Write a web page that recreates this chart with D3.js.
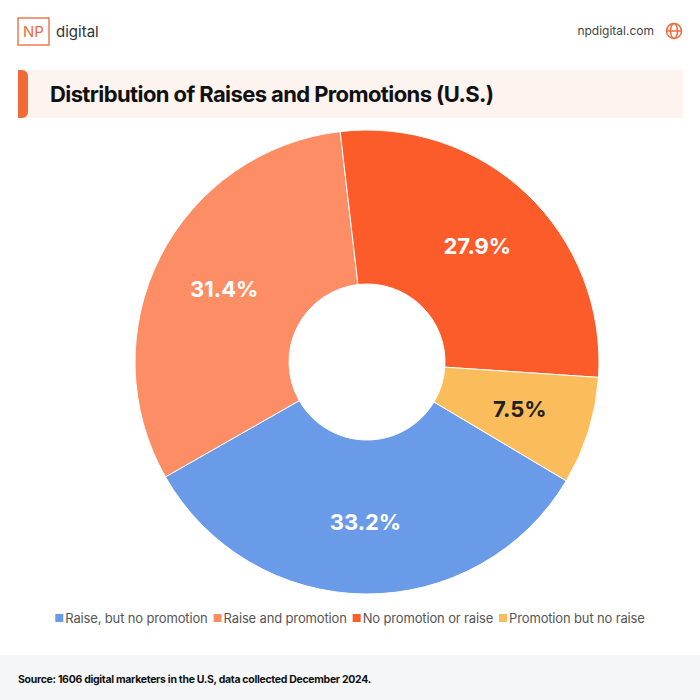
<!DOCTYPE html><html><head><meta charset="utf-8">
<script src="https://cdn.jsdelivr.net/npm/d3@7"></script>
<style>body{margin:0;background:#fff;}svg{display:block;font-family:Inter,"Open Sans",sans-serif;}</style></head><body>
<svg id="c" width="700" height="700"></svg>
<script>
const categories=["Raise, but no promotion","Raise and promotion","No promotion or raise","Promotion but no raise"];
const values=[33.2,31.4,27.9,7.5];
const colors=["#6a9be8","#fc8d65","#fc5c2a","#fbbd5b"];
const labelColors=["#fff","#fff","#fff","#222"];
const svg=d3.select("#c");
svg.append("rect").attr("x",18).attr("y",18).attr("width",31).attr("height",27).attr("fill","none").attr("stroke","#f07a4f").attr("stroke-width",1.5);
svg.append("text").attr("x",33.5).attr("y",37).attr("text-anchor","middle").attr("font-size",15).attr("fill","#f06a3a").text("NP");
svg.append("text").attr("x",56).attr("y",37).attr("font-size",15).attr("fill","#333").text("digital");
svg.append("text").attr("x",654).attr("y",35).attr("text-anchor","end").attr("font-size",12).attr("fill","#444").text("npdigital.com");
const g0=svg.append("g").attr("transform","translate(674,31)").attr("fill","none").attr("stroke","#f06a3a").attr("stroke-width",1.5);
g0.append("circle").attr("r",7.5);g0.append("ellipse").attr("rx",3.5).attr("ry",7.5);
g0.append("line").attr("x1",-7.5).attr("x2",7.5);
svg.append("rect").attr("x",18).attr("y",70).attr("width",665).attr("height",48).attr("fill","#fdf4ef");
svg.append("path").attr("d","M18,70 h4 a6,6 0 0 1 6,6 v36 a6,6 0 0 1 -6,6 h-4 z").attr("fill","#f26a35");
svg.append("text").attr("x",50).attr("y",102).attr("font-size",22).attr("font-weight",700).attr("fill","#111").attr("letter-spacing",-0.6).text("Distribution of Raises and Promotions (U.S.)");
const cx=367,cy=362,R=232,r0=78;
const pie=d3.pie().sort(null).value(d=>d).startAngle(120.8*Math.PI/180).endAngle((120.8+360)*Math.PI/180);
const arcs=pie(values);
const arc=d3.arc().innerRadius(r0).outerRadius(R);
const lab=d3.arc().innerRadius(160).outerRadius(160);
const g=svg.append("g").attr("transform",`translate(${cx},${cy})`);
g.selectAll("path").data(arcs).join("path").attr("d",arc).attr("fill",(d,i)=>colors[i]).attr("stroke","#fff").attr("stroke-width",1);
g.selectAll("text").data(arcs).join("text").attr("transform",d=>`translate(${lab.centroid(d)})`)
 .attr("text-anchor","middle").attr("dy","0.35em").attr("font-size",22).attr("font-weight",700)
 .attr("fill",(d,i)=>labelColors[i]).text(d=>d.data.toFixed(1)+"%");
const lg=svg.append("g");
let x=0;
categories.forEach((c,i)=>{
 lg.append("rect").attr("x",x).attr("y",614).attr("width",8).attr("height",8).attr("fill",colors[i]);
 const t=lg.append("text").attr("x",x+10).attr("y",622.5).attr("font-size",13).attr("fill","#555").attr("letter-spacing",-0.15).text(c);
 x+=10+t.node().getComputedTextLength()+6;
});
lg.attr("transform",`translate(${(700-x+6)/2},0)`);
svg.append("rect").attr("x",0).attr("y",655).attr("width",700).attr("height",45).attr("fill","#f5f6f8");
svg.append("text").attr("x",18).attr("y",683).attr("font-size",10.5).attr("font-weight",700).attr("fill","#111").attr("letter-spacing",-0.3).text("Source: 1606 digital marketers in the U.S, data collected December 2024.");
</script></body></html>
